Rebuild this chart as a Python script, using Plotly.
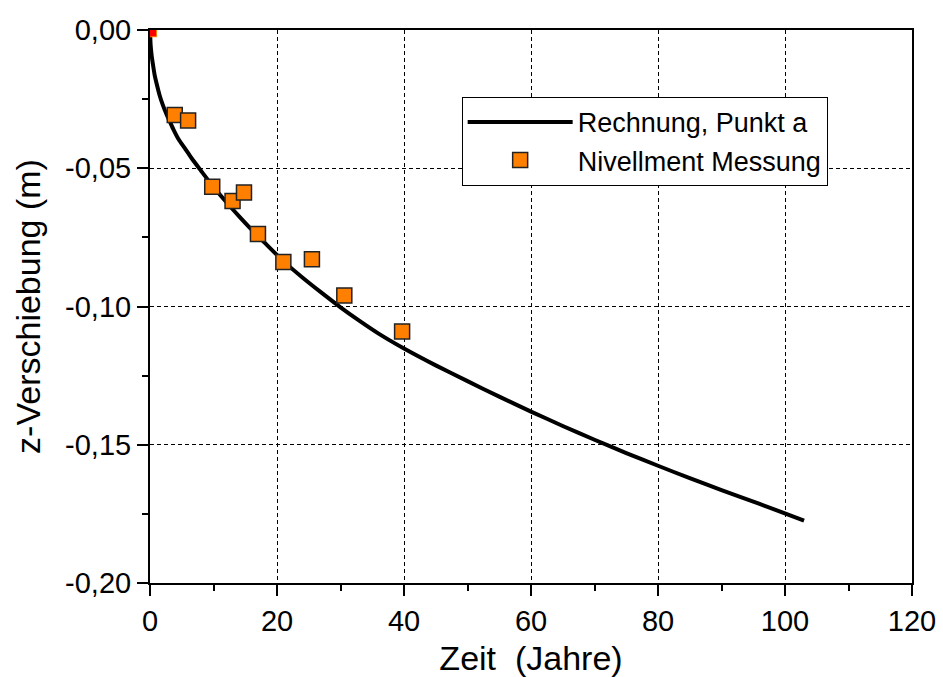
import plotly.graph_objects as go

# Calculated curve
calc_t = [0, 0.1, 0.25, 0.5, 0.75, 1.0, 1.5, 2.0, 2.6, 3.2, 3.7, 4.5, 5.5, 6.5, 8, 10, 12, 14, 16, 18,
          21, 24, 27, 30, 33, 36, 40, 45, 50, 55, 60, 65, 70, 75, 80, 85, 90, 96, 103]
calc_z = [0, -0.0055, -0.009, -0.013, -0.0165, -0.019, -0.0235, -0.027, -0.0305, -0.0335, -0.036,
          -0.0395, -0.0428, -0.0462, -0.0508, -0.0568, -0.0622, -0.0673, -0.0722, -0.0768,
          -0.0836, -0.0895, -0.0950, -0.1003, -0.1052, -0.1098, -0.1152, -0.1213, -0.1270, -0.1326,
          -0.1380, -0.1432, -0.1482, -0.1530, -0.1576, -0.1621, -0.1664, -0.1714, -0.1774]

# Levelling measurements
meas_t = [3.9, 6.0, 9.8, 13.0, 14.8, 17.0, 21.0, 25.5, 30.6, 39.7]
meas_z = [-0.0307, -0.0327, -0.0567, -0.0618, -0.0588, -0.0738, -0.0839, -0.0829, -0.0960, -0.1090]

origin_t = [0.4]
origin_z = [-0.0010]

x_ticks = [0, 20, 40, 60, 80, 100, 120]
y_ticks = [0.0, -0.05, -0.10, -0.15, -0.20]
y_labels = ["0,00", "-0,05", "-0,10", "-0,15", "-0,20"]

FONT = "Liberation Sans, Arial, sans-serif"

fig = go.Figure()
fig.add_trace(go.Scatter(x=calc_t, y=calc_z, mode="lines", name="Rechnung, Punkt a",
                         line=dict(color="black", width=4, shape="spline", smoothing=0.6)))
fig.add_trace(go.Scatter(x=meas_t, y=meas_z, mode="markers", name="Nivellment Messung",
                         marker=dict(symbol="square", size=15, color="#FF8000",
                                     line=dict(color="#222222", width=1.5))))
fig.add_trace(go.Scatter(x=origin_t, y=origin_z, mode="markers", showlegend=False,
                         marker=dict(symbol="square", size=8, color="#FF0000",
                                     line=dict(color="#FF8000", width=1))))

axis_common = dict(showline=True, linecolor="black", linewidth=2, mirror=True,
                   ticks="outside", ticklen=11, tickwidth=1.5, tickcolor="black",
                   showgrid=True, gridcolor="black", griddash="4px,3px", gridwidth=1,
                   zeroline=False, automargin=False,
                   tickfont=dict(family=FONT, size=29, color="black"))

fig.update_xaxes(range=[0, 120], tickvals=x_ticks,
                 title=dict(text="Zeit  (Jahre)", font=dict(family=FONT, size=34, color="black"), standoff=10),
                 minor=dict(ticks="outside", ticklen=6, tickwidth=1.5, tickcolor="black", dtick=10, tick0=0, showgrid=False),
                 **axis_common)
fig.update_yaxes(range=[-0.20, 0.0], tickvals=y_ticks, ticktext=y_labels,
                 title=dict(text="z-Verschiebung (m)", font=dict(family=FONT, size=34, color="black"), standoff=14),
                 minor=dict(ticks="outside", ticklen=6, tickwidth=1.5, tickcolor="black", dtick=0.025, tick0=0, showgrid=False),
                 **axis_common)

fig.update_layout(
    width=943, height=677,
    margin=dict(l=150, r=31, t=30, b=94),
    plot_bgcolor="white", paper_bgcolor="white",
    font=dict(family=FONT, color="black"),
    legend=dict(x=0.409, y=0.879, xanchor="left", yanchor="top",
                bordercolor="black", borderwidth=1, bgcolor="white",
                font=dict(family=FONT, size=27, color="black"),
                itemwidth=105, tracegroupgap=0),
    showlegend=True,
)

fig.write_html("out.html")
